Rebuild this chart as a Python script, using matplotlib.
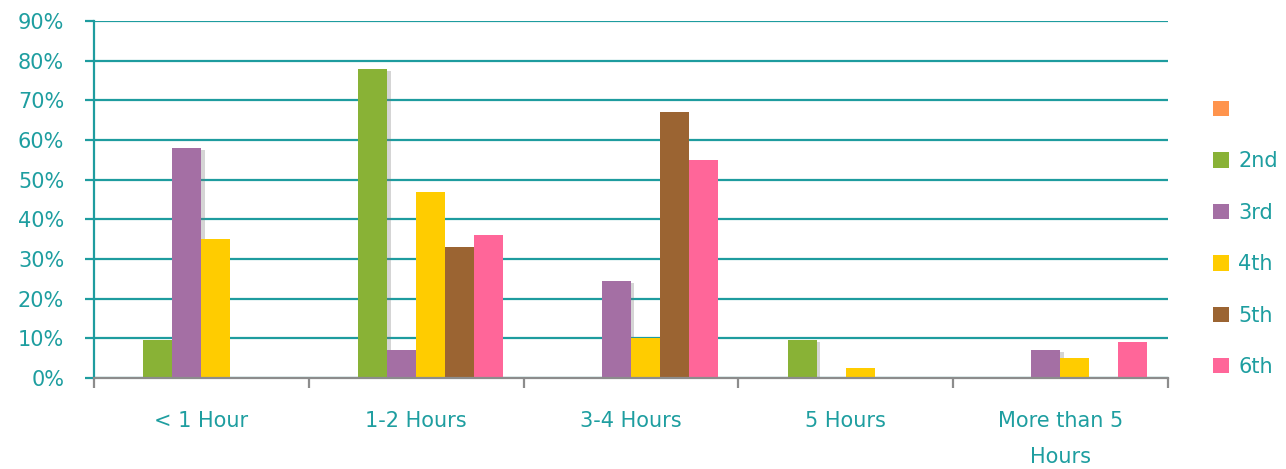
import numpy as np
import matplotlib
matplotlib.use("Agg")
from matplotlib import pyplot as plt
from matplotlib.patches import Patch
import matplotlib.patheffects as pe


CATEGORIES = ["< 1 Hour", "1-2 Hours", "3-4 Hours", "5 Hours", "More than 5\nHours"]
SERIES = ["", "2nd", "3rd", "4th", "5th", "6th"]

# percent values per grade, one list per series
blank = [0, 0, 0, 0, 0]
grade_2nd = [9.5, 78, 0, 9.5, 0]
grade_3rd = [58, 7, 24.5, 0, 7]
grade_4th = [35, 47, 10, 2.5, 5]
grade_5th = [0, 33, 67, 0, 0]
grade_6th = [0, 36, 55, 0, 9]

COLORS = ["#FF944D", "#89B236", "#A46FA4", "#FFCC00", "#9B6432", "#FF6699"]
TEAL = "#1E9C9F"
TXT = "#1E9EA0"


def draw():

    values = [blank, grade_2nd, grade_3rd, grade_4th, grade_5th, grade_6th]
    n_ser = len(values)
    x = np.arange(len(CATEGORIES))
    bw = 0.81 / n_ser

    fig = plt.figure(figsize=(12.86, 4.69), dpi=100)
    ax = fig.add_axes([0.0731, 0.194, 0.835, 0.761])

    shadow = [pe.SimplePatchShadow(offset=(2.5, -1.5), shadow_rgbFace="#777777", alpha=0.3),
              pe.Normal()]

    for i, vals in enumerate(values):
        offs = (i - (n_ser - 1) / 2) * bw
        bars = ax.bar(x + offs, np.array(vals) / 100.0, width=bw,
                      color=COLORS[i], zorder=3, linewidth=0)
        if SERIES[i] in ("2nd", "3rd"):
            for b in bars:
                b.set_path_effects(shadow)

    ax.set_xlim(-0.5, len(CATEGORIES) - 0.5)
    ax.set_ylim(0, 0.9)
    ax.set_yticks(np.arange(0, 0.91, 0.1))
    ax.set_yticklabels([f"{int(round(v * 100))}%" for v in np.arange(0, 0.91, 0.1)])

    ax.grid(axis="y", color=TEAL, linewidth=1.6, zorder=0)
    ax.set_axisbelow(True)

    for s in ["top", "right"]:
        ax.spines[s].set_visible(False)
    ax.spines["left"].set_color(TEAL)
    ax.spines["left"].set_linewidth(1.6)
    ax.spines["bottom"].set_color("#8C8C8C")
    ax.spines["bottom"].set_linewidth(1.6)
    ax.spines["bottom"].set_zorder(4)

    ax.set_xticks(x)
    ax.set_xticklabels(CATEGORIES, linespacing=2.0, va="top")
    ax.set_xticks(np.arange(-0.5, len(CATEGORIES)), minor=True)
    ax.tick_params(axis="x", which="major", length=0, pad=24,
                   labelsize=15, labelcolor=TXT)
    ax.tick_params(axis="x", which="minor", length=7, width=1.6,
                   color="#8C8C8C", direction="out")
    ax.tick_params(axis="y", length=6.5, width=1.6, color=TEAL, pad=15,
                   labelsize=15, labelcolor=TXT)

    handles = [Patch(facecolor=c, edgecolor="none") for c in COLORS]
    fig.legend(handles, SERIES, loc="upper left", bbox_to_anchor=(0.937, 0.805),
               frameon=False, fontsize=15, labelcolor=TXT,
               handlelength=0.75, handleheight=0.75, handletextpad=0.45,
               labelspacing=1.51, borderaxespad=0)

    fig.savefig("out.png", dpi=100)


draw()
